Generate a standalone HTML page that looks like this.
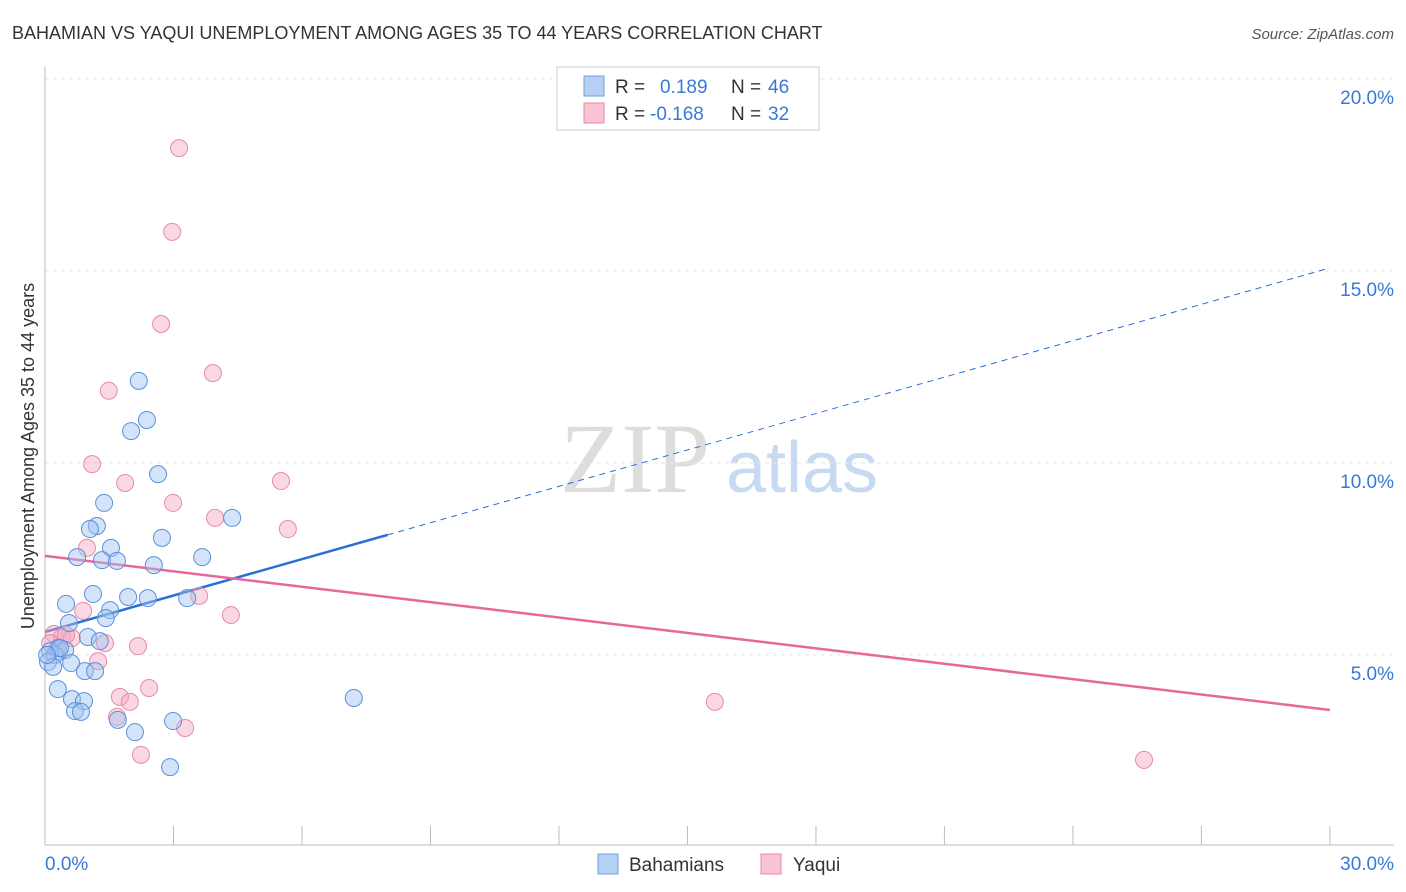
<!DOCTYPE html>
<html><head><meta charset="utf-8"><style>
body{margin:0;background:#fff;font-family:"Liberation Sans",sans-serif}
svg{display:block}
</style></head><body>
<svg id="chart" width="1406" height="892" viewBox="0 0 1406 892">
<text x="12" y="39" font-size="18" fill="#333">BAHAMIAN VS YAQUI UNEMPLOYMENT AMONG AGES 35 TO 44 YEARS CORRELATION CHART</text>
<text x="1394" y="39" font-size="15" fill="#555" font-style="italic" text-anchor="end">Source: ZipAtlas.com</text>
<g>
<text x="635" y="492" font-size="100" fill="#ddd" font-family="Liberation Serif,serif" text-anchor="middle">ZIP</text>
<text x="802" y="492" font-size="72" fill="#c8daf2" text-anchor="middle">atlas</text>
</g>
<g id="grid"></g>
<g id="axes"></g>
<g id="trends"></g>
<g id="points"></g>
<text transform="translate(34,456) rotate(-90)" font-size="18" fill="#333" text-anchor="middle">Unemployment Among Ages 35 to 44 years</text>
<g>
<rect x="557" y="67" width="262" height="63" fill="#fff" stroke="#ccc"/>
<rect x="584" y="76" width="20" height="20" fill="#b6d0f3" stroke="#6f9fe0"/>
<rect x="584" y="103" width="20" height="20" fill="#f8c4d4" stroke="#e88aa8"/>
<text x="615" y="93" font-size="19" fill="#333">R = </text><text x="660" y="93" font-size="19" fill="#3a78d8">0.189</text>
<text x="731" y="93" font-size="19" fill="#333">N = </text><text x="768" y="93" font-size="19" fill="#3a78d8">46</text>
<text x="615" y="120" font-size="19" fill="#333">R = </text><text x="650" y="120" font-size="19" fill="#3a78d8">-0.168</text>
<text x="731" y="120" font-size="19" fill="#333">N = </text><text x="768" y="120" font-size="19" fill="#3a78d8">32</text>
</g>
<g>
<rect x="598" y="854" width="20" height="20" fill="#b6d0f3" stroke="#6f9fe0"/>
<text x="629" y="871" font-size="19" fill="#333">Bahamians</text>
<rect x="761" y="854" width="20" height="20" fill="#f8c4d4" stroke="#e88aa8"/>
<text x="793" y="871" font-size="19" fill="#333">Yaqui</text>
</g>
</svg>
<script>
const xTicks=[0,3,6,9,12,15,18,21,24,27,30];
const yTicks=[5,10,15,20];
const yTickLabels=["5.0%","10.0%","15.0%","20.0%"];
const blueX=[2.19,2.38,2.01,2.64,1.38,4.37,1.21,1.05,2.73,0.75,1.54,1.33,1.68,3.67,2.54,1.12,0.49,1.94,2.40,3.32,1.52,1.42,0.56,1.00,1.28,0.30,0.47,0.12,0.23,0.07,0.61,0.19,0.93,1.17,0.30,0.63,0.91,0.70,0.84,7.21,1.70,2.99,2.10,2.92,0.35,0.05];
const blueY=[12.14,11.12,10.83,9.71,8.96,8.57,8.36,8.28,8.05,7.55,7.79,7.47,7.45,7.55,7.34,6.59,6.33,6.51,6.48,6.48,6.17,5.96,5.83,5.47,5.36,5.18,5.13,5.10,5.00,4.82,4.79,4.69,4.58,4.58,4.11,3.85,3.80,3.54,3.52,3.88,3.31,3.28,2.99,2.08,5.18,5.00];
const pinkX=[3.13,2.97,2.71,3.92,1.49,1.10,1.87,2.99,5.51,3.97,5.67,0.98,0.89,3.60,4.34,0.21,0.40,0.63,1.40,2.17,1.24,1.75,1.98,2.43,1.68,3.27,2.24,15.64,25.66,0.12,0.30,0.49];
const pinkY=[18.20,16.02,13.62,12.34,11.88,9.97,9.48,8.96,9.53,8.57,8.28,7.79,6.15,6.54,6.04,5.55,5.47,5.44,5.31,5.23,4.84,3.91,3.78,4.14,3.39,3.10,2.40,3.78,2.27,5.31,5.10,5.52];
const blueTrend=[5.60,0.316];
const pinkTrend=[7.58,-0.1337];
const blueSolidEnd=8.0;
const NS="http://www.w3.org/2000/svg";
const X=v=>45+v*42.83, Y=v=>847-v*38.4;
function mk(tag,attrs,parent){const e=document.createElementNS(NS,tag);for(const k in attrs)e.setAttribute(k,attrs[k]);document.getElementById(parent).appendChild(e);return e;}
yTicks.forEach((t,i)=>{
 const l=mk('line',{x1:45,x2:1394,y1:Y(t),y2:Y(t),stroke:'#e6e6e6','stroke-dasharray':'4,4'},'grid');
 
 
 const tx=mk('text',{x:1394,y:Y(t)+25,'font-size':19,fill:'#3a78d8','text-anchor':'end'},'axes');
 tx.textContent=yTickLabels[i];
 
 
});
const ax=mk('line',{x1:45,x2:45,y1:67,y2:845,stroke:'#bbb'},'axes');


const bx=mk('line',{x1:45,x2:1394,y1:845,y2:845,stroke:'#bbb'},'axes');


xTicks.forEach(t=>{
 const l=mk('line',{x1:X(t),x2:X(t),y1:826,y2:845,stroke:'#bbb'},'axes');
 
 
});
[[0,'0.0%','start'],[30,'30.0%','end']].forEach(([v,s,a])=>{
 const tx=mk('text',{x:v===0?X(v):1394,y:870,'font-size':19,fill:'#3a78d8','text-anchor':a},'axes');
 tx.textContent=s;
 
 
});
const bl=mk('line',{x1:X(0),y1:Y(blueTrend[0]),x2:X(blueSolidEnd),y2:Y(blueTrend[0]+blueTrend[1]*blueSolidEnd),stroke:'#2a6fd6','stroke-width':2.5},'trends');


const bd=mk('line',{x1:X(blueSolidEnd),y1:Y(blueTrend[0]+blueTrend[1]*blueSolidEnd),x2:X(30),y2:Y(blueTrend[0]+blueTrend[1]*30),stroke:'#2a6fd6','stroke-width':1,'stroke-dasharray':'6,5'},'trends');


const pl=mk('line',{x1:X(0),y1:Y(pinkTrend[0]),x2:X(30),y2:Y(pinkTrend[0]+pinkTrend[1]*30),stroke:'#e8679a','stroke-width':2.5},'trends');


pinkX.forEach((x,i)=>{
 const c=mk('circle',{cx:X(x),cy:Y(pinkY[i]),r:8.5,fill:'rgba(244,168,194,0.45)',stroke:'#e88aa8','stroke-width':1},'points');
 
 
});
blueX.forEach((x,i)=>{
 const c=mk('circle',{cx:X(x),cy:Y(blueY[i]),r:8.5,fill:'rgba(160,195,240,0.45)',stroke:'#5b8fdc','stroke-width':1},'points');
 
 
});
</script>
</body></html>
